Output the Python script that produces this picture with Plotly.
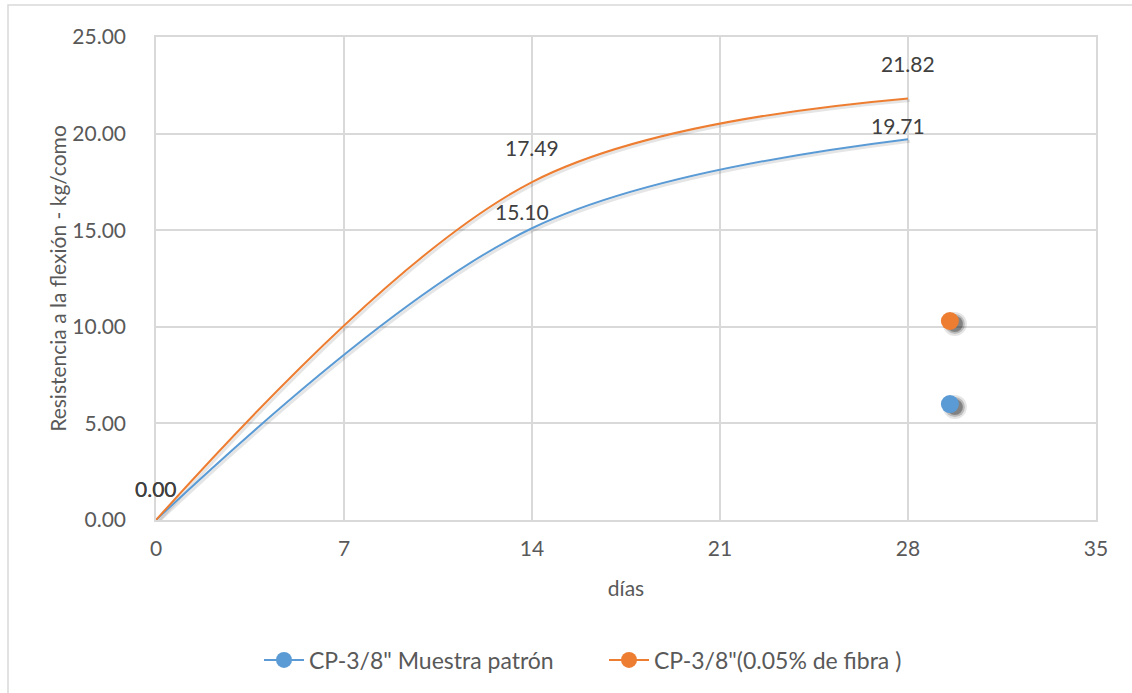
import plotly.graph_objects as go

# Flexural strength vs. curing age
dias = [0, 14, 28]
patron = [0.00, 15.10, 19.71]
fibra = [0.00, 17.49, 21.82]

# Separate single points shown beside the curves
punto_x = [29.56]
punto_patron = [6.00]
punto_fibra = [10.30]

nombres = ['CP-3/8" Muestra patrón', 'CP-3/8"(0.05% de fibra )']
azul = "#5B9BD5"
naranja = "#ED7D31"
FONT = "Lato"
GRIS = "#595959"
FS = 21

# plot-area geometry in pixels
W, H = 1132, 693
ML, MR, MT, MB = 156, 36, 37, 173
PW, PH = W - ML - MR, H - MT - MB
XMAX, YMAX = 35, 25
px_x = XMAX / PW
px_y = YMAX / PH

fig = go.Figure()

# soft shadows under the curves
for ys in (patron, fibra):
    fig.add_trace(go.Scatter(
        x=[v + 2 * px_x for v in dias], y=[v - 2 * px_y for v in ys],
        mode="lines", line=dict(color="rgba(0,0,0,0.10)", width=3, shape="spline", smoothing=1),
        hoverinfo="skip", showlegend=False))

fig.add_trace(go.Scatter(x=dias, y=patron, mode="lines",
                         line=dict(color=azul, width=2, shape="spline", smoothing=1),
                         showlegend=False))
fig.add_trace(go.Scatter(x=dias, y=fibra, mode="lines",
                         line=dict(color=naranja, width=2, shape="spline", smoothing=1),
                         showlegend=False))

# shadows behind the single points
for ys in (punto_patron, punto_fibra):
    for sz, a in [(24, 0.10), (20, 0.18), (16, 0.30)]:
        fig.add_trace(go.Scatter(
            x=[v + 5 * px_x for v in punto_x], y=[v - 3 * px_y for v in ys],
            mode="markers", marker=dict(size=sz, color=f"rgba(0,0,0,{a})", line=dict(width=0)),
            hoverinfo="skip", showlegend=False))

fig.add_trace(go.Scatter(x=punto_x, y=punto_patron, mode="lines+markers", name=nombres[0],
                         line=dict(color=azul, width=2),
                         marker=dict(size=18, color=azul, line=dict(width=0))))
fig.add_trace(go.Scatter(x=punto_x, y=punto_fibra, mode="lines+markers", name=nombres[1],
                         line=dict(color=naranja, width=2),
                         marker=dict(size=18, color=naranja, line=dict(width=0))))

# data labels
offsets_patron = [(0, 32), (-10, 17), (-10, 14)]
offsets_fibra = [(0, 32), (0, 35), (0, 35)]
for ys, offs in ((patron, offsets_patron), (fibra, offsets_fibra)):
    for xv, yv, (dx, dy) in zip(dias, ys, offs):
        fig.add_annotation(x=xv, y=yv, text=f"{yv:.2f}", showarrow=False,
                           xshift=dx, yshift=dy,
                           font=dict(family=FONT, size=FS, color="#404040"))

# outer chart border
fig.add_shape(type="rect", xref="paper", yref="paper",
              x0=(8 - ML) / PW, x1=(W + 10 - ML) / PW,
              y0=-(H + 10 - MT - PH) / PH, y1=1 + (MT - 5) / PH,
              line=dict(color="#D9D9D9", width=1.5), fillcolor="rgba(0,0,0,0)", layer="below")

fig.update_layout(
    width=W, height=H,
    margin=dict(l=ML, r=MR, t=MT, b=MB),
    paper_bgcolor="white", plot_bgcolor="white",
    font=dict(family=FONT, size=FS, color=GRIS),
    xaxis=dict(range=[0, XMAX], tickvals=[0, 7, 14, 21, 28, 35], ticktext=["0", "7", "14", "21", "28", "35"],
               showgrid=True, gridcolor="#D9D9D9", gridwidth=1.5, zeroline=False,
               showline=True, linecolor="#D9D9D9", linewidth=1.5, mirror=True,
               ticks="", ticklabelstandoff=9,
               title=dict(text="días", standoff=22, font=dict(family=FONT, size=FS, color=GRIS))),
    yaxis=dict(range=[0, YMAX], tickvals=[0, 5, 10, 15, 20, 25], tickformat=".2f",
               showgrid=True, gridcolor="#D9D9D9", gridwidth=1.5, zeroline=False,
               showline=True, linecolor="#D9D9D9", linewidth=1.5, mirror=True,
               ticks="", ticklabelstandoff=24,
               title=dict(text="Resistencia a la flexión - kg/como", standoff=0,
                          font=dict(family=FONT, size=FS, color=GRIS))),
    legend=dict(orientation="h", x=(604 - ML) / PW, xanchor="center",
                y=-(660 - MT - PH) / PH, yanchor="middle",
                font=dict(family=FONT, size=23, color=GRIS), itemwidth=40,
                entrywidth=290),
    showlegend=True,
)

fig.write_html("out.html")
